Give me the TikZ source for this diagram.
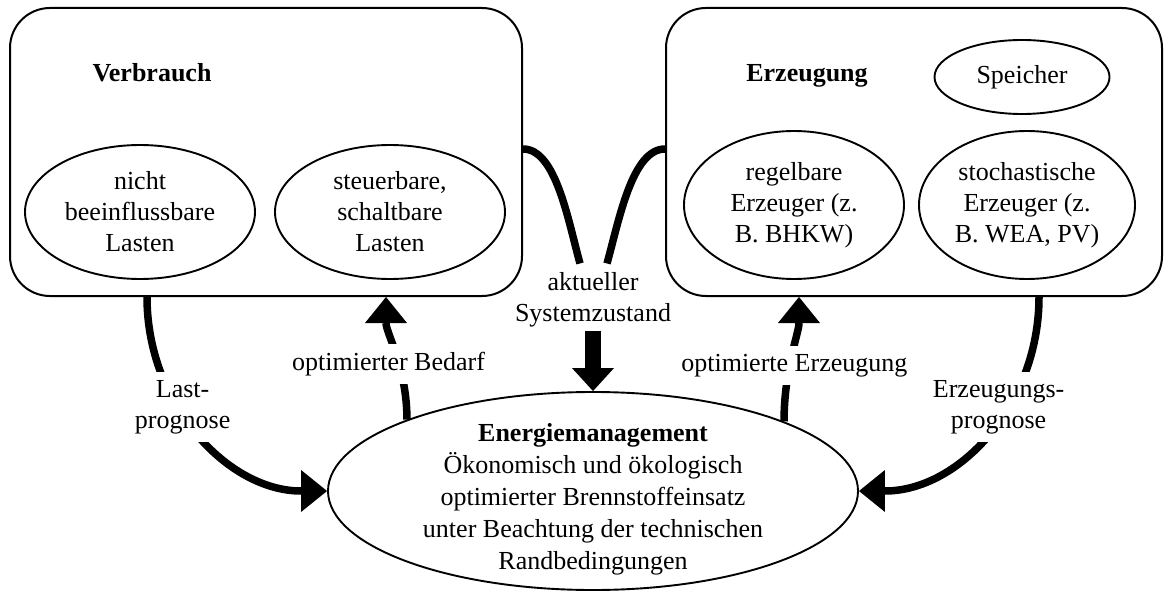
\documentclass[tikz,border=0pt]{standalone}
\usepackage{fontspec}
\setmainfont{Liberation Serif}
\usetikzlibrary{shapes.geometric,arrows.meta,calc}
\begin{document}
\begin{tikzpicture}[x=1pt,y=-1pt,
  every node/.style={font=\fontsize{26}{31}\selectfont, align=center},
  panel/.style={draw, line width=2pt, rounded corners=40pt, inner sep=0pt},
  oval/.style={draw, ellipse, line width=1.9pt, inner sep=0pt},
  title/.style={font=\fontsize{26}{31}\selectfont\bfseries},
  flow/.style={line width=7.5pt, -{Triangle[width=42pt,length=26pt,line width=0pt]}},
  feed/.style={line width=7.5pt},
  tag/.style={fill=white, inner sep=8pt}]

\useasboundingbox (0,0) rectangle (1169,596);

% the two panels
\node[panel, minimum width=512pt, minimum height=288pt] (verb) at (266,152) {};
\node[panel, minimum width=496pt, minimum height=288pt] (erz) at (914,152) {};

% consumption side
\node[title] (vt) at (152,73) {Verbrauch};
\node[oval, minimum width=230pt, minimum height=134pt] (nb) at (140,212) {nicht\\beeinflussbare\\Lasten};
\node[oval, minimum width=230pt, minimum height=134pt] (sl) at (390,212) {steuerbare,\\schaltbare\\Lasten};

% generation side
\node[title] (et) at (807,76) {Erzeugung};
\node[oval, minimum width=175pt, minimum height=74pt] (sp) at (1022,77) {Speicher};
\node[oval, minimum width=220pt, minimum height=148pt] (re) at (794,205) {regelbare\\Erzeuger (z.\\B. BHKW)};
\node[oval, minimum width=216pt, minimum height=148pt] (se) at (1027,205) {stochastische\\Erzeuger (z.\\B. WEA, PV)};

% energy management
\node[oval, minimum width=530pt, minimum height=198pt] (em) at (593,491) {};
\node[font=\fontsize{26}{32}\selectfont] (emt) at (593,499) {\textbf{Energiemanagement}\\Ökonomisch und ökologisch\\optimierter Brennstoffeinsatz\\unter Beachtung der technischen\\Randbedingungen};

% system state
\node[inner sep=3pt] (sys) at (593,300) {aktueller\\Systemzustand};
\draw[feed] ($(verb.north east)+(0,142)$) .. controls +(33,0) and +(-12,-43) .. ([xshift=-13pt,yshift=6pt]sys.north);
\draw[feed] ($(erz.north west)+(0,142)$) .. controls +(-33,0) and +(12,-43) .. ([xshift=14pt,yshift=6pt]sys.north);
\draw[line width=16pt, -{Triangle[width=42pt,length=23pt,line width=0pt]}] (sys.south) -- (em.north);

% forecasts
\draw[flow] ($(verb.south west)+(138,0)$) .. controls +(0,108) and +(-99,0) .. (em.west)
  node[tag, pos=0.38, xshift=4pt] (lp) {Last-\\prognose};
\draw[flow] ($(erz.south west)+(374,0)$) .. controls +(0,108) and +(100,0) .. (em.east)
  node[tag, pos=0.38, xshift=-9pt] (ep) {Erzeugungs-\\prognose};

% optimised set points
\draw[flow] (em.159) .. controls +(0,-52) and +(0,36) .. ($(verb.south west)+(377,0)$)
  node[tag, pos=0.4, xshift=-11pt] (ob) {optimierter Bedarf};
\draw[flow] (em.20) .. controls +(0,-52) and +(0,36) .. ($(erz.south west)+(134,0)$)
  node[tag, pos=0.4, xshift=5pt] (oe) {optimierte Erzeugung};
\end{tikzpicture}
\end{document}
